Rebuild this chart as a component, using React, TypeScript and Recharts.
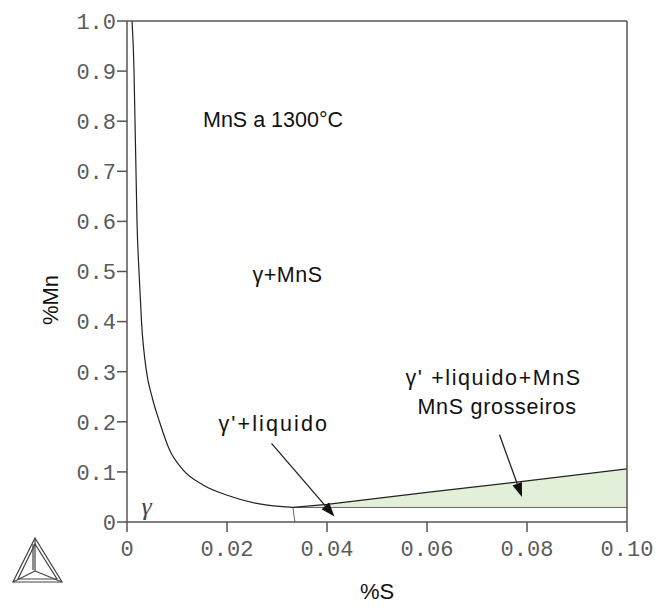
import React from 'react';
import { ComposedChart, Line, Area, XAxis, YAxis, ReferenceDot, ReferenceLine } from 'recharts';

// axis ticks
const sTicks = [0, 0.02, 0.04, 0.06, 0.08, 0.1];
const sTickLabels = ['0', '0.02', '0.04', '0.06', '0.08', '0.10'];
const mnTicks = [0, 0.1, 0.2, 0.3, 0.4, 0.5, 0.6, 0.7, 0.8, 0.9, 1.0];
const mnTickLabels = ['0', '0.1', '0.2', '0.3', '0.4', '0.5', '0.6', '0.7', '0.8', '0.9', '1.0'];

// gamma / gamma+MnS boundary (down to the minimum)
const boundaryS = [0.001, 0.0014, 0.0016, 0.0018, 0.002, 0.0024, 0.0029, 0.0039, 0.005, 0.0065, 0.0085, 0.0112, 0.0152, 0.0199, 0.0265, 0.0332];
const boundaryMn = [1.0, 0.9, 0.8, 0.7, 0.6, 0.5, 0.4, 0.3, 0.25, 0.2, 0.144, 0.104, 0.074, 0.054, 0.036, 0.029];

// upper edge of the liquid region
const upperS = [0.0332, 0.04, 0.06, 0.08, 0.1];
const upperMn = [0.029, 0.035, 0.059, 0.082, 0.106];

// lower edge of the liquid region
const liquidS = [0.0332, 0.1];
const liquidMn = [0.029, 0.029];

// short gamma / gamma'+liquid edge
const edgeS = [0.0332, 0.0334, 0.0336];
const edgeMn = [0.029, 0.012, 0];

// shaded gamma'+liquid+MnS band
const bandS = [0.0332, 0.04, 0.06, 0.08, 0.1];
const bandLow = [0.029, 0.029, 0.029, 0.029, 0.029];
const bandHigh = [0.029, 0.035, 0.059, 0.082, 0.106];

// annotations (data units)
const noteText = ['MnS a 1300°C', 'γ+MnS', "γ' +liquido+MnS", 'MnS grosseiros', "γ'+liquido"];
const noteS = [0.0152, 0.0251, 0.0557, 0.0581, 0.0183];
const noteMn = [0.802, 0.493, 0.287, 0.2295, 0.196];
const noteSpacing = [0, 0.5, 1.6, 0.7, 2.1];

const arrowFromS = [0.0289, 0.0745];
const arrowFromMn = [0.157, 0.174];
const arrowToS = [0.0415, 0.079];
const arrowToMn = [0.011, 0.05];

const toRows = (xs: number[], ys: number[]) => xs.map((s, i) => ({ s, mn: ys[i] }));
const boundaryData = toRows(boundaryS, boundaryMn);
const upperData = toRows(upperS, upperMn);
const liquidData = toRows(liquidS, liquidMn);
const edgeData = toRows(edgeS, edgeMn);
const bandData = bandS.map((s, i) => ({ s, range: [bandLow[i], bandHigh[i]] }));

const axisColor = '#555';
const sansFont = '"Liberation Sans", Arial, sans-serif';
const tickFont = { fontFamily: '"Liberation Mono", monospace', fontSize: 22, fill: '#5a5a5a' };

const NoteText = (text: string, spacing: number) => (props: any) => (
  <text x={props.cx} y={props.cy} dominantBaseline="central" fontFamily={sansFont} fontSize={21.5} letterSpacing={spacing} fill="#111">
    {text}
  </text>
);

const Arrow = (props: any) => {
  const { x1, y1, x2, y2 } = props;
  const ang = Math.atan2(y2 - y1, x2 - x1);
  const len = 14;
  const half = 5;
  const bx = x2 - len * Math.cos(ang);
  const by = y2 - len * Math.sin(ang);
  const px = -Math.sin(ang) * half;
  const py = Math.cos(ang) * half;
  return (
    <g>
      <line x1={x1} y1={y1} x2={bx} y2={by} stroke="#222" strokeWidth={1.3} />
      <polygon points={`${x2},${y2} ${bx + px},${by + py} ${bx - px},${by - py}`} fill="#111" />
    </g>
  );
};

const Logo = () => (
  <svg width={60} height={60} style={{ position: 'absolute', left: 8, top: 530 }}>
    <g fill="none" stroke="#444" strokeWidth={1.2}>
      <polygon points="27,8 5,52 54,52" />
      <polygon points="27,14 10,49 49,49" />
      <line x1={27} y1={8} x2={27} y2={41} />
      <line x1={25} y1={14} x2={25} y2={40} />
      <line x1={27} y1={41} x2={5} y2={52} />
      <line x1={27} y1={41} x2={54} y2={52} />
    </g>
  </svg>
);

export default function App() {
  return (
    <div style={{ position: 'absolute', left: 0, top: 0, width: 663, height: 610, background: '#fff' }}>
      <ComposedChart width={663} height={610} margin={{ top: 11, right: 26, left: 57, bottom: 48 }}>
        <XAxis
          dataKey="s"
          type="number"
          domain={[0, 0.1]}
          ticks={sTicks}
          tickFormatter={(v: number) => sTickLabels[sTicks.indexOf(v)] ?? ''}
          allowDataOverflow
          stroke={axisColor}
          strokeWidth={1.5}
          tickSize={10}
          tickMargin={8}
          height={40}
          tick={tickFont}
          label={{ value: '%S', position: 'bottom', offset: 21, fontFamily: sansFont, fontSize: 22, fill: '#111' }}
        />
        <XAxis
          xAxisId="top"
          orientation="top"
          type="number"
          domain={[0, 0.1]}
          ticks={sTicks}
          tick={false}
          stroke={axisColor}
          strokeWidth={1.5}
          tickSize={10}
          height={10}
        />
        <YAxis
          type="number"
          domain={[0, 1]}
          ticks={mnTicks}
          tickFormatter={(v: number) => mnTickLabels[mnTicks.indexOf(v)] ?? ''}
          allowDataOverflow
          stroke={axisColor}
          strokeWidth={1.5}
          tickSize={10}
          tickMargin={1}
          width={70}
          tick={tickFont}
          label={{
            content: () => (
              <text x={50} y={300} transform="rotate(-90 50 300)" textAnchor="middle" dominantBaseline="central" fontFamily={sansFont} fontSize={22} fill="#111">
                %Mn
              </text>
            ),
          }}
        />
        <YAxis
          yAxisId="right"
          orientation="right"
          type="number"
          domain={[0, 1]}
          ticks={mnTicks}
          tick={false}
          stroke={axisColor}
          strokeWidth={1.5}
          tickSize={10}
          width={10}
        />
        <Area data={bandData} dataKey="range" type="linear" fill="#e2efd9" fillOpacity={1} stroke="none" isAnimationActive={false} />
        <Line data={liquidData} dataKey="mn" type="linear" stroke="#666" strokeWidth={1} dot={false} isAnimationActive={false} />
        <Line data={edgeData} dataKey="mn" type="linear" stroke="#666" strokeWidth={1} dot={false} isAnimationActive={false} />
        <Line data={boundaryData} dataKey="mn" type="monotone" stroke="#222" strokeWidth={1.2} dot={false} isAnimationActive={false} />
        <Line data={upperData} dataKey="mn" type="linear" stroke="#222" strokeWidth={1.2} dot={false} isAnimationActive={false} />
        {noteText.map((t, i) => (
          <ReferenceDot key={t} x={noteS[i]} y={noteMn[i]} r={0} shape={NoteText(t, noteSpacing[i])} />
        ))}
        <ReferenceDot x={0.0029} y={0.03} r={0} shape={(p: any) => (
          <text x={p.cx} y={p.cy} dominantBaseline="central" fontFamily='"Liberation Serif", serif' fontStyle="italic" fontSize={26} fill="#444">γ</text>
        )} />
        {arrowFromS.map((s, i) => (
          <ReferenceLine
            key={i}
            segment={[{ x: s, y: arrowFromMn[i] }, { x: arrowToS[i], y: arrowToMn[i] }]}
            shape={Arrow}
          />
        ))}
      </ComposedChart>
      <Logo />
    </div>
  );
}
